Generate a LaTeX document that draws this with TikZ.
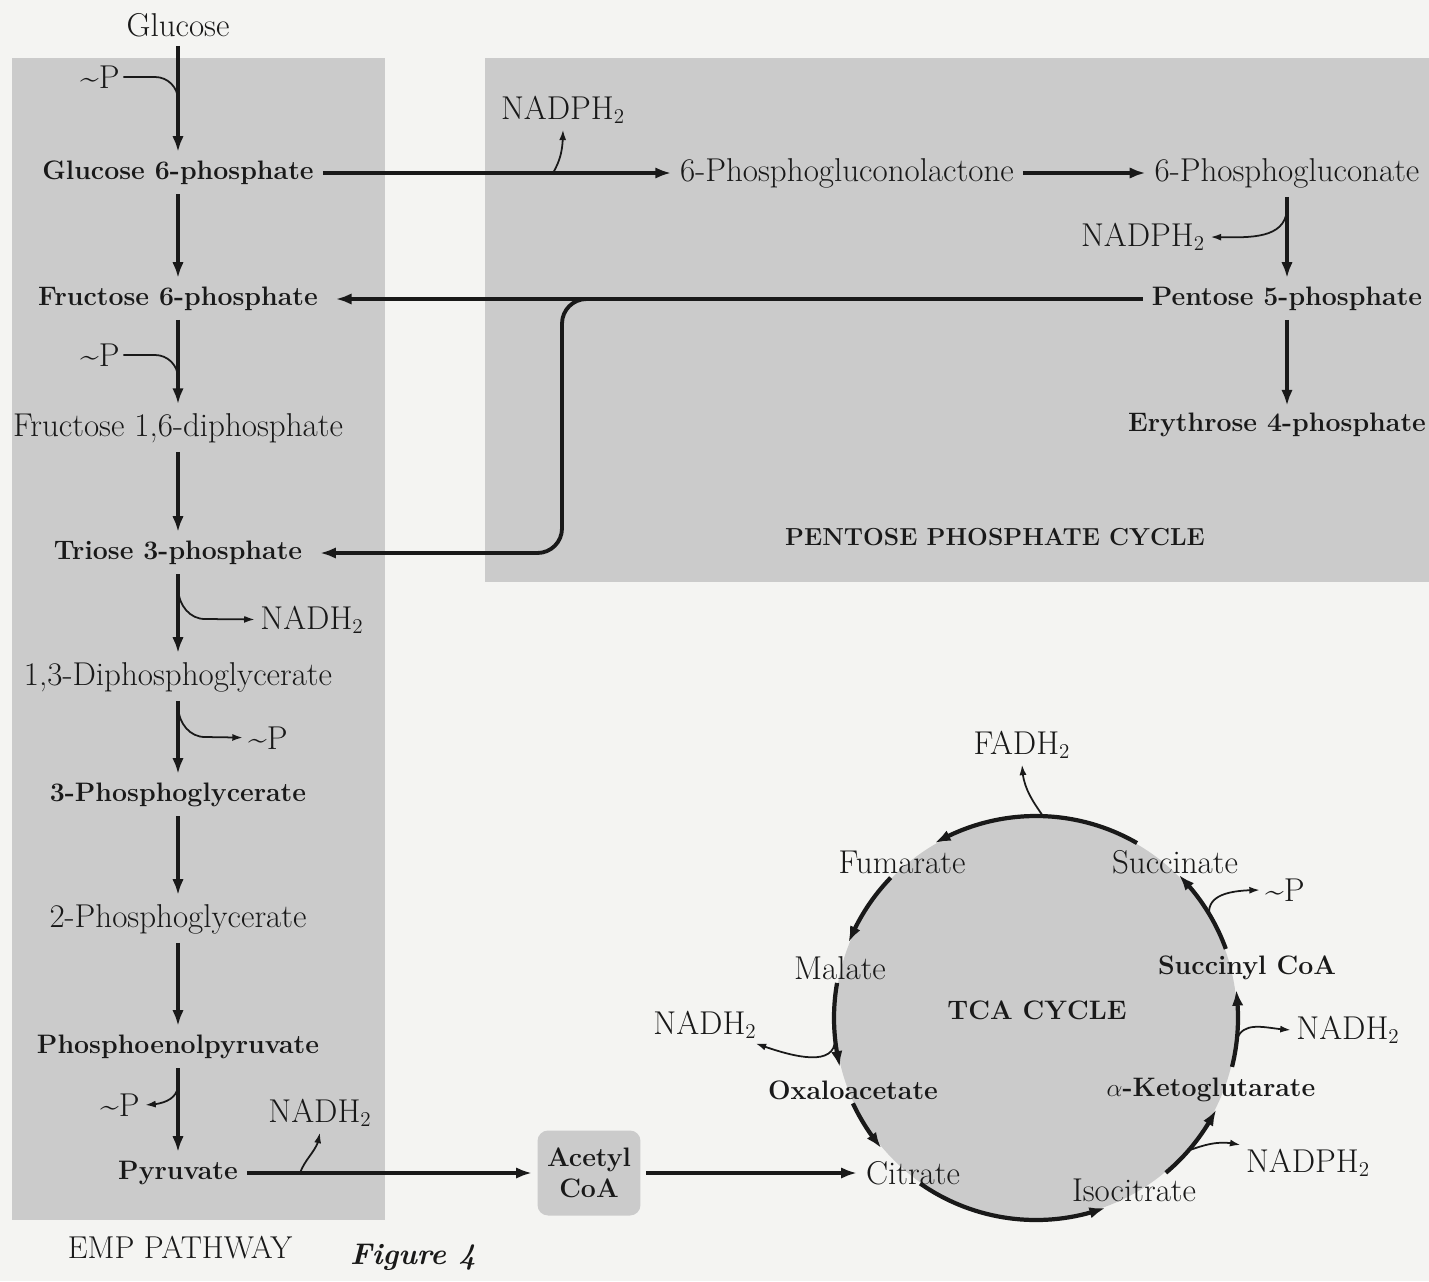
\documentclass[tikz,border=0pt]{standalone}
\usepackage{fontspec}
\usetikzlibrary{arrows.meta,bending}
\definecolor{paper}{RGB}{244,244,242}
\definecolor{panel}{RGB}{203,203,203}
\definecolor{ink}{RGB}{25,25,25}
\begin{document}
\begin{tikzpicture}[x=0.02cm,y=0.02cm, every node/.style={inner sep=2pt,text=ink},
  reg/.style={font=\fontsize{18.8}{21}\selectfont},
  bld/.style={font=\bfseries\fontsize{15.2}{17.5}\selectfont},
  main/.style={ink,line width=2.2pt,-{Latex[length=9pt,width=6.5pt]},shorten >=3pt,shorten <=3pt},
  side/.style={ink,line width=1pt,-{Latex[length=6pt,width=4pt]},shorten >=1pt},
  feed/.style={ink,line width=1pt},
  cyc/.style={ink,line width=2.4pt,-{Latex[length=9pt,width=6.5pt,bend]}}]
\fill[paper] (0,0) rectangle (1429,-1281);
\useasboundingbox (0,0) rectangle (1429,-1281);
\fill[panel] (12,-58) rectangle (385,-1220);
\fill[panel] (485,-58) rectangle (1429,-582);
\coordinate (ctr) at (1036,-1018);
\fill[panel] (ctr) circle[radius=201];

\node[reg] (glc) at (178,-25) {Glucose};
\node[bld] (gsix) at (178,-173) {Glucose 6-phosphate};
\node[bld] (fsix) at (178,-299) {Fructose 6-phosphate};
\node[reg] (fbp) at (178,-428) {Fructose 1,6-diphosphate};
\node[bld] (triose) at (178,-553) {Triose 3-phosphate};
\node[reg] (dpg) at (178,-677) {1,3-Diphosphoglycerate};
\node[bld] (pgaA) at (178,-795) {3-Phosphoglycerate};
\node[reg] (pgaB) at (178,-919) {2-Phosphoglycerate};
\node[bld] (pep) at (178,-1047) {Phosphoenolpyruvate};
\node[bld] (pyr) at (178,-1173) {Pyruvate};
\node[font=\fontsize{18}{20}\selectfont] (emp) at (180,-1248) {EMP PATHWAY};
\node[font=\bfseries\itshape\fontsize{17}{20}\selectfont] (fig) at (413,-1257) {Figure 4};

\node[reg] (pA) at (100,-77) {\textasciitilde P};
\node[reg] (pB) at (100,-355) {\textasciitilde P};
\node[reg] (nadhT) at (312,-620) {NADH$_2$};
\node[reg] (pC) at (268,-738) {\textasciitilde P};
\node[reg] (pD) at (120,-1105) {\textasciitilde P};
\node[reg] (nadhP) at (320,-1113) {NADH$_2$};
\node[reg] (nadphG) at (563,-110) {NADPH$_2$};
\node[reg] (nadphP) at (1143,-237) {NADPH$_2$};

\node[reg] (pgl) at (847,-173) {6-Phosphogluconolactone};
\node[reg] (pgn) at (1287,-173) {6-Phosphogluconate};
\node[bld] (pent) at (1287,-299) {Pentose 5-phosphate};
\node[bld,anchor=east,inner sep=1pt] (eryth) at (1428,-425) {Erythrose 4-phosphate};
\node[font=\bfseries\fontsize{14}{16}\selectfont] (ppc) at (995,-537) {PENTOSE PHOSPHATE CYCLE};

\node[bld,fill=panel,rounded corners=6pt,minimum width=2.06cm,minimum height=1.7cm,align=center] (acoa) at (589,-1173) {Acetyl\\CoA};
\node[reg] (cit) at (913,-1173) {Citrate};
\node[bld] (oaa) at (853,-1090) {Oxaloacetate};
\node[reg] (mal) at (840,-968) {Malate};
\node[reg] (fum) at (902,-862) {Fumarate};
\node[reg] (suc) at (1175,-862) {Succinate};
\node[bld] (scoa) at (1247,-968) {Succinyl CoA};
\node[bld] (akg) at (1211,-1090) {$\alpha$-Ketoglutarate};
\node[reg] (icit) at (1134,-1190) {Isocitrate};
\node[bld] (tca) at (1037,-1010) {TCA CYCLE};
\node[reg] (fadh) at (1022,-745) {FADH$_2$};
\node[reg] (pS) at (1285,-890) {\textasciitilde P};
\node[reg] (nadhK) at (1348,-1030) {NADH$_2$};
\node[reg] (nadphI) at (1308,-1163) {NADPH$_2$};
\node[reg] (nadhM) at (705,-1025) {NADH$_2$};

\draw[main] (glc) -- (gsix);
\draw[main] (gsix) -- (fsix);
\draw[main] (fsix) -- (fbp);
\draw[main] (fbp) -- (triose);
\draw[main] (triose) -- (dpg);
\draw[main] (dpg) -- (pgaA);
\draw[main] (pgaA) -- (pgaB);
\draw[main] (pgaB) -- (pep);
\draw[main] (pep) -- (pyr);
\draw[main] (pyr) -- (acoa);
\draw[main] (acoa) -- (cit);
\draw[main] (gsix) -- (pgl);
\draw[main] (pgl) -- (pgn);
\draw[main] (pgn) -- (pent);
\draw[main] (pent) -- (pent |- eryth.north);
\draw[main,shorten >=8pt] (pent) -- (fsix);
\draw[main,shorten >=8pt,rounded corners=14pt] (600,-299) -- (562,-299) -- (562,-553) -- (triose);

\draw[feed] (pA) -- (155,-77) to[out=0,in=90] (178,-100);
\draw[feed] (pB) -- (155,-355) to[out=0,in=90] (178,-378);
\draw[side] (178,-590) to[out=-85,in=180] (205,-619) -- (nadhT);
\draw[side] (178,-708) to[out=-85,in=180] (205,-737) -- (pC);
\draw[side] (178,-1086) to[out=-95,in=0] (pD);
\draw[side] (300,-1173) to[out=70,in=-90] (nadhP);
\draw[side] (553,-173) to[out=60,in=-90] (nadphG);
\draw[side] (1287,-210) to[out=-95,in=0] (nadphP);

\draw[cyc] ([shift={(235:202)}]ctr) arc[start angle=235,end angle=290,radius=202];
\draw[cyc] ([shift={(310:202)}]ctr) arc[start angle=310,end angle=333,radius=202];
\draw[cyc] ([shift={(346:202)}]ctr) arc[start angle=346,end angle=368,radius=202];
\draw[cyc] ([shift={(20:202)}]ctr) arc[start angle=20,end angle=45,radius=202];
\draw[cyc] ([shift={(60:202)}]ctr) arc[start angle=60,end angle=120,radius=202];
\draw[cyc] ([shift={(136:202)}]ctr) arc[start angle=136,end angle=158,radius=202];
\draw[cyc] ([shift={(170:202)}]ctr) arc[start angle=170,end angle=194,radius=202];
\draw[cyc] ([shift={(205:202)}]ctr) arc[start angle=205,end angle=220,radius=202];

\draw[side] ([shift={(88:202)}]ctr) to[out=125,in=-90] (fadh);
\draw[side] ([shift={(31:202)}]ctr) to[out=95,in=180] (pS);
\draw[side] ([shift={(-6:202)}]ctr) to[out=70,in=180] (nadhK);
\draw[side] ([shift={(-41:202)}]ctr) to[out=20,in=165] (nadphI);
\draw[side] ([shift={(186:202)}]ctr) to[out=-90,in=-20] (nadhM);
\end{tikzpicture}
\end{document}
